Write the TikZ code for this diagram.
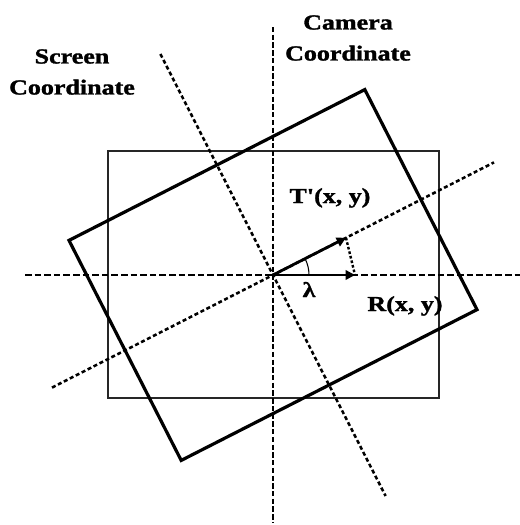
\documentclass[tikz,border=0pt]{standalone}
\usepackage{fontspec}
\newfontfamily\lblfont{Liberation Serif}[FakeStretch=1.22,FakeBold=1.5]
\usetikzlibrary{arrows.meta}
\begin{document}
\begin{tikzpicture}[x=0.75pt,y=-0.75pt,
  hax/.style={line width=1.9pt, dash pattern=on 5pt off 2.2pt},
  vax/.style={line width=1.9pt, dash pattern=on 4pt off 1.8pt},
  tax/.style={line width=1.9pt, dash pattern=on 3pt off 2pt},
  scr/.style={line width=2.4pt, line join=miter},
  cam/.style={line width=1.6pt, draw=black!85},
  vec/.style={line width=2.1pt, -{Triangle[length=7pt,width=7pt]}},
  lbl/.style={font=\lblfont\bfseries\fontsize{16}{23.25}\selectfont, align=center, inner sep=0pt}]
\useasboundingbox (0,0) rectangle (520,525);
% key points
\coordinate (O) at (273,275);
\coordinate (R) at (355,275);
\coordinate (T) at (346,237.8);
% camera (axis-aligned) frame
\draw[cam] (108,151) rectangle (439,398);
% camera axes
\coordinate (vt) at (273,27);
\coordinate (vb) at (273,523);
\coordinate (hl) at (25,275);
\coordinate (hr) at (521,275);
\draw[vax] (vt) -- (vb);
\draw[hax] (hl) -- (hr);
% screen (rotated) axes
\coordinate (xl) at (52,387.6);
\coordinate (xr) at (494,162.4);
\coordinate (yt) at (160.4,54);
\coordinate (yb) at (385.6,496);
\draw[tax] (xl) -- (xr);
\draw[tax] (yt) -- (yb);
% screen (rotated) frame
\draw[scr] (364.8,89.6) -- (477,309.6) -- (181.2,460.4) -- (69,240.4) -- cycle;
% vectors
\draw[line width=1.8pt, dash pattern=on 2pt off 1.5pt] (T) -- (R);
\draw[vec] (O) -- (R);
\draw[vec] (O) -- (T);
\draw[line width=0.8pt] ([shift={(36,0)}]O) arc[start angle=0, end angle=27, radius=27pt];
% labels
\node[lbl] (camlbl) at (348,38) {Camera\\Coordinate};
\node[lbl] (scrlbl) at (72,72) {Screen\\Coordinate};
\node[lbl, anchor=base] (tlbl) at (330,203) {T'(x, y)};
\node[lbl, anchor=base] (rlbl) at (405,311) {R(x, y)};
\node[lbl, anchor=base] (lam) at (309,297) {λ};
\end{tikzpicture}
\end{document}
